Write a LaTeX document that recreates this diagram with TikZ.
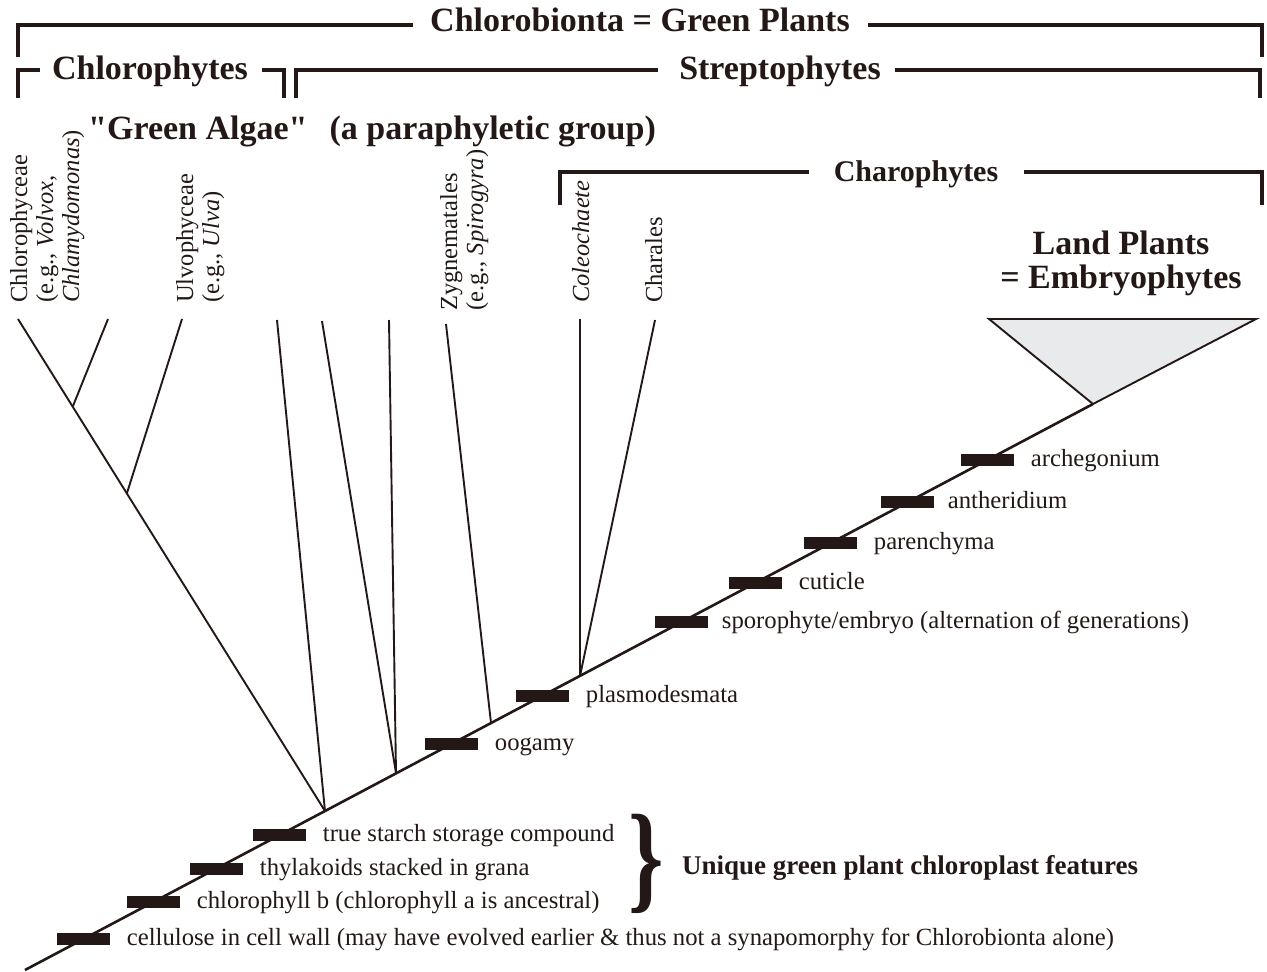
\documentclass[tikz,border=0pt]{standalone}
\usepackage{fontspec}
\setmainfont{Liberation Serif}[Ligatures=TeXOff]
\usetikzlibrary{positioning}
\definecolor{cladeink}{HTML}{231815}
\definecolor{cladegray}{HTML}{E9EAEB}

\begin{document}
\begin{tikzpicture}[x=1pt,y=-1pt,
    branch/.style={draw=cladeink, line width=1.9pt},
    trunk/.style={draw=cladeink, line width=2.6pt},
    bracket/.style={draw=cladeink, line width=4.6pt},
    synapo/.style={fill=cladeink, minimum width=53pt, minimum height=12pt, inner sep=0pt},
    trait/.style={text=cladeink, font=\fontsize{24.7}{26}\selectfont, inner sep=0pt, text height=17pt, text depth=5pt},
    taxon/.style={text=cladeink, font=\fontsize{24.5}{26}\selectfont, inner sep=0pt, rotate=90, align=left, anchor=north west},
    header/.style={text=cladeink, font=\bfseries\fontsize{34}{34}\selectfont, inner sep=0pt, anchor=base}]
  \useasboundingbox (0,0) rectangle (1267,972);

  % brackets over the clades
  \draw[bracket] (18,57) -- (18,25) -- (413,25);
  \draw[bracket] (868,25) -- (1262,25) -- (1262,57);
  \node[header] (greenplants) at (640,31) {Chlorobionta = Green Plants};

  \draw[bracket] (18,98) -- (18,70) -- (40,70);
  \draw[bracket] (262,70) -- (284,70) -- (284,98);
  \node[header] (chlorophytes) at (150,79) {Chlorophytes};

  \draw[bracket] (296,98) -- (296,70) -- (658,70);
  \draw[bracket] (895,70) -- (1260,70) -- (1260,98);
  \node[header] (streptophytes) at (780,79) {Streptophytes};

  \node[header, anchor=base west] (greenalgae) at (88,139) {"Green Algae"\hspace{0.4em} (a paraphyletic group)};

  \draw[bracket] (560,205) -- (560,172) -- (809,172);
  \draw[bracket] (1024,172) -- (1262,172) -- (1262,205);
  \node[header, font=\bfseries\fontsize{30}{32}\selectfont] (charophytes) at (916,181) {Charophytes};

  \node[header, align=center] (landplants) at (1121,288) {Land Plants\\= Embryophytes};

  % taxa at the tips
  \node[taxon] (chlorophyceae) at (10,303) {Chlorophyceae\\(e.g., \textit{Volvox},\\\textit{Chlamydomonas})};
  \node[taxon] (ulvophyceae) at (176,303) {Ulvophyceae\\(e.g., \textit{Ulva})};
  \node[taxon] (zygnematales) at (440,311) {Zygnematales\\(e.g., \textit{Spirogyra})};
  \node[taxon] (coleochaete) at (572,303) {\textit{Coleochaete}};
  \node[taxon] (charales) at (645,303) {Charales};

  % tree
  \coordinate (root) at (25,970);
  \coordinate (emb) at (1093,404);
  \coordinate (n1) at (325,811);
  \coordinate (n2) at (396,773);
  \coordinate (n3) at (491,723);
  \coordinate (n4) at (580,676);
  \coordinate (nc1) at (73,406);
  \coordinate (nc2) at (127,493);
  \coordinate (tChloro) at (18,319);
  \coordinate (tVolvox) at (108,319);
  \coordinate (tUlvo) at (182,319);
  \coordinate (tA) at (277,320);
  \coordinate (tB) at (322,321);
  \coordinate (tC) at (389,320);
  \coordinate (tZyg) at (446,324);
  \coordinate (tColeo) at (580,319);
  \coordinate (tChara) at (655,320);
  \coordinate (triL) at (989,319);
  \coordinate (triR) at (1256,319);

  \filldraw[fill=cladegray, branch] (emb) -- (triL) -- (triR) -- cycle;
  \draw[trunk] (root) -- (emb);
  \draw[branch] (tChloro) -- (n1);
  \draw[branch] (tVolvox) -- (nc1);
  \draw[branch] (tUlvo) -- (nc2);
  \draw[branch] (tA) -- (n1);
  \draw[branch] (tB) -- (n2);
  \draw[branch] (tC) -- (n2);
  \draw[branch] (tZyg) -- (n3);
  \draw[branch] (tColeo) -- (n4);
  \draw[branch] (tChara) -- (n4);

  % synapomorphies on the trunk
  \node[synapo] (cellulose) at (83,939) {};
  \node[synapo] (chlb) at (153,902) {};
  \node[synapo] (grana) at (216,869) {};
  \node[synapo] (starch) at (279,835) {};
  \node[synapo] (oogamy) at (451,744) {};
  \node[synapo] (plasmo) at (542,696) {};
  \node[synapo] (sporo) at (681,622) {};
  \node[synapo] (cuticle) at (755,583) {};
  \node[synapo] (paren) at (830,543) {};
  \node[synapo] (anther) at (907,502) {};
  \node[synapo] (archeg) at (987,460) {};

  \node[trait, right=17pt of cellulose] (cellulose-txt) {cellulose in cell wall (may have evolved earlier \& thus not a synapomorphy for Chlorobionta alone)};
  \node[trait, right=17pt of chlb] (chlb-txt) {chlorophyll b (chlorophyll a is ancestral)};
  \node[trait, right=17pt of grana] (grana-txt) {thylakoids stacked in grana};
  \node[trait, right=17pt of starch] (starch-txt) {true starch storage compound};
  \node[trait, right=17pt of oogamy] (oogamy-txt) {oogamy};
  \node[trait, right=17pt of plasmo] (plasmo-txt) {plasmodesmata};
  \node[trait, right=14pt of sporo] (sporo-txt) {sporophyte/embryo (alternation of generations)};
  \node[trait, right=17pt of cuticle] (cuticle-txt) {cuticle};
  \node[trait, right=17pt of paren] (paren-txt) {parenchyma};
  \node[trait, right=14pt of anther] (anther-txt) {antheridium};
  \node[trait, right=17pt of archeg] (archeg-txt) {archegonium};

  \node[text=cladeink, inner sep=0pt, anchor=base, font=\bfseries\fontsize{120}{120}\selectfont] (brace) at (646,897) {\scalebox{0.75}[1]{\}}};
  \node[header, anchor=base west, font=\bfseries\fontsize{27}{29}\selectfont] (unique) at (682,874) {Unique green plant chloroplast features};
\end{tikzpicture}
\end{document}
